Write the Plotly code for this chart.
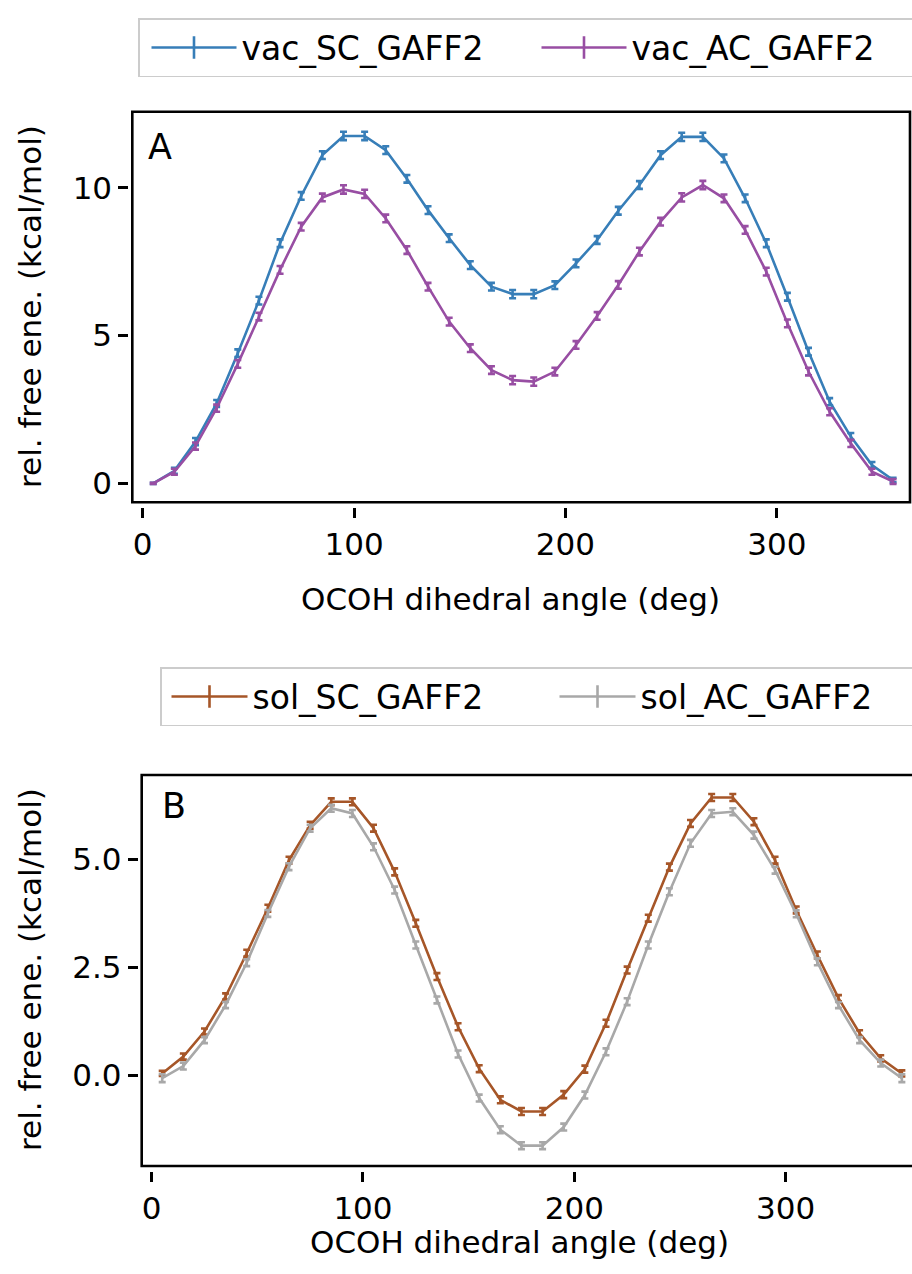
import plotly.graph_objects as go

# ---------------- data ----------------
angles = [5, 15, 25, 35, 45, 55, 65, 75, 85, 95, 105, 115, 125, 135, 145, 155, 165, 175,
          185, 195, 205, 215, 225, 235, 245, 255, 265, 275, 285, 295, 305, 315, 325, 335, 345, 355]

vac_SC_GAFF2 = [0.00, 0.42, 1.41, 2.70, 4.40, 6.18, 8.12, 9.72, 11.10, 11.75, 11.75, 11.27,
                10.30, 9.24, 8.29, 7.38, 6.65, 6.40, 6.40, 6.70, 7.44, 8.23, 9.22, 10.09,
                11.10, 11.72, 11.72, 10.99, 9.64, 8.12, 6.31, 4.45, 2.76, 1.58, 0.62, 0.11]
vac_AC_GAFF2 = [0.00, 0.39, 1.26, 2.54, 4.04, 5.64, 7.22, 8.68, 9.67, 9.94, 9.79, 8.96,
                7.89, 6.65, 5.47, 4.57, 3.83, 3.49, 3.44, 3.78, 4.68, 5.66, 6.71, 7.84,
                8.85, 9.67, 10.09, 9.64, 8.57, 7.16, 5.41, 3.78, 2.42, 1.35, 0.39, 0.06]
sol_SC_GAFF2 = [0.05, 0.44, 1.02, 1.83, 2.83, 3.87, 4.98, 5.79, 6.33, 6.33, 5.72, 4.71,
                3.52, 2.29, 1.13, 0.16, -0.56, -0.83, -0.83, -0.44, 0.15, 1.21, 2.44, 3.64,
                4.82, 5.83, 6.43, 6.43, 5.87, 4.98, 3.83, 2.79, 1.79, 0.98, 0.40, 0.05]
sol_AC_GAFF2 = [-0.06, 0.22, 0.82, 1.63, 2.61, 3.75, 4.83, 5.72, 6.18, 6.06, 5.29, 4.29,
                3.02, 1.75, 0.50, -0.52, -1.25, -1.62, -1.62, -1.19, -0.45, 0.55, 1.71, 3.02,
                4.25, 5.37, 6.06, 6.10, 5.56, 4.75, 3.74, 2.63, 1.63, 0.82, 0.29, -0.06]

# estimated error bars (read from cap sizes)
vac_SC_err = [0.02, 0.10, 0.12, 0.12, 0.13, 0.13, 0.13, 0.13, 0.13, 0.14, 0.14, 0.13,
              0.13, 0.13, 0.13, 0.13, 0.13, 0.14, 0.14, 0.13, 0.13, 0.13, 0.13, 0.13,
              0.13, 0.14, 0.14, 0.13, 0.13, 0.13, 0.13, 0.13, 0.12, 0.12, 0.10, 0.08]
vac_AC_err = [0.02, 0.10, 0.12, 0.12, 0.13, 0.13, 0.13, 0.13, 0.13, 0.14, 0.14, 0.13,
              0.13, 0.13, 0.13, 0.13, 0.13, 0.14, 0.14, 0.13, 0.13, 0.13, 0.13, 0.13,
              0.13, 0.14, 0.14, 0.13, 0.13, 0.13, 0.13, 0.13, 0.12, 0.12, 0.10, 0.08]
sol_SC_err = [0.06, 0.07, 0.07, 0.07, 0.08, 0.08, 0.08, 0.08, 0.08, 0.08, 0.08, 0.08,
              0.08, 0.08, 0.08, 0.08, 0.08, 0.08, 0.08, 0.08, 0.08, 0.08, 0.08, 0.08,
              0.08, 0.08, 0.08, 0.08, 0.08, 0.08, 0.08, 0.08, 0.07, 0.07, 0.07, 0.07]
sol_AC_err = [0.09, 0.08, 0.07, 0.07, 0.08, 0.08, 0.08, 0.08, 0.08, 0.08, 0.08, 0.08,
              0.08, 0.08, 0.08, 0.08, 0.08, 0.08, 0.08, 0.08, 0.08, 0.08, 0.08, 0.08,
              0.08, 0.08, 0.08, 0.08, 0.08, 0.08, 0.08, 0.08, 0.07, 0.07, 0.08, 0.09]

x_ticks = [0, 100, 200, 300]
yA_ticks = [0, 5, 10]
yA_labels = ["0", "5", "10"]
yB_ticks = [0.0, 2.5, 5.0]
yB_labels = ["0.0", "2.5", "5.0"]

x_title = "OCOH dihedral angle (deg)"
y_title = "rel. free ene. (kcal/mol)"

C_BLUE = "#377eb8"
C_PURPLE = "#984ea3"
C_BROWN = "#a65628"
C_GREY = "#a8a8a8"

# ---------------- geometry (screen pixels; body margin removed below) ----------------
W, H = 912, 1274
FONT = "DejaVu Sans, Verdana, sans-serif"


def px(x):
    return x / W


def py(y):
    return 1 - y / H


A_left, A_right, A_top, A_bot = 132.3, 910.0, 111.7, 502.3
B_left, B_right, B_top, B_bot = 141.7, 912.0, 775.0, 1166.0

fig = go.Figure()


def add_series(x, y, err, color, name, xa, ya, leg):
    fig.add_trace(go.Scatter(
        x=x, y=y, mode="lines", name=name, showlegend=False,
        xaxis=xa, yaxis=ya,
        line=dict(color=color, width=2.6),
        error_y=dict(type="data", array=err, visible=True, color=color,
                     thickness=2.6, width=3.5),
    ))
    # legend entry (errorbar style)
    fig.add_trace(go.Scatter(
        x=[None], y=[None], mode="lines+markers", name=name, legend=leg,
        xaxis=xa, yaxis=ya,
        line=dict(color=color, width=2.6),
        marker=dict(symbol="line-ns-open", size=26, color=color,
                    line=dict(color=color, width=2.6)),
    ))


add_series(angles, vac_SC_GAFF2, vac_SC_err, C_BLUE, "vac_SC_GAFF2", "x", "y", "legend")
add_series(angles, vac_AC_GAFF2, vac_AC_err, C_PURPLE, "vac_AC_GAFF2", "x", "y", "legend")
add_series(angles, sol_SC_GAFF2, sol_SC_err, C_BROWN, "sol_SC_GAFF2", "x2", "y2", "legend2")
add_series(angles, sol_AC_GAFF2, sol_AC_err, C_GREY, "sol_AC_GAFF2", "x2", "y2", "legend2")

tickfont = dict(family=FONT, size=31, color="black")
common_x = dict(showgrid=False, zeroline=False, showline=False, ticks="outside",
                ticklen=10, tickwidth=2.5, tickcolor="black", tickfont=tickfont,
                tickvals=x_ticks, anchor="free", automargin=False)
common_y = dict(showgrid=False, zeroline=False, showline=False, ticks="outside",
                ticklen=10, tickwidth=2.5, tickcolor="black", tickfont=tickfont,
                anchor="free", automargin=False)

legend_common = dict(orientation="h", xanchor="left", yanchor="top",
                     bgcolor="white", bordercolor="#cccccc", borderwidth=1.5,
                     font=dict(family=FONT, size=33, color="black"))

fig.update_layout(
    width=W, height=H, autosize=False,
    margin=dict(l=0, r=0, t=0, b=0, pad=0, autoexpand=False),
    paper_bgcolor="white", plot_bgcolor="white",
    font=dict(family=FONT, size=31, color="black"),
    xaxis=dict(domain=[px(A_left), px(A_right)], range=[-4.9, 363.0],
               position=py(506.5), **common_x),
    yaxis=dict(domain=[py(A_bot), py(A_top)], range=[-0.643, 12.57],
               tickvals=yA_ticks, ticktext=yA_labels,
               position=px(128.3), **common_y),
    xaxis2=dict(domain=[px(B_left), min(1.0, px(B_right))], range=[-4.7, 359.8],
                position=py(1170.5), **common_x),
    yaxis2=dict(domain=[py(B_bot), py(B_top)], range=[-2.09, 6.95],
                tickvals=yB_ticks, ticktext=yB_labels,
                position=px(137.7), **common_y),
    legend=dict(x=px(138), y=py(18), indentation=7, itemwidth=85, entrywidth=283,
                **legend_common),
    legend2=dict(x=px(160), y=py(667), indentation=5, itemwidth=76, entrywidth=292,
                 **legend_common),
    showlegend=True,
)

# plot frames
fig.add_shape(type="rect", xref="paper", yref="paper",
              x0=px(A_left), x1=px(A_right), y0=py(A_bot), y1=py(A_top),
              line=dict(color="black", width=2.6), fillcolor="rgba(0,0,0,0)", layer="above")
fig.add_shape(type="rect", xref="paper", yref="paper",
              x0=px(B_left), x1=px(B_right + 20), y0=py(B_bot), y1=py(B_top),
              line=dict(color="black", width=2.6), fillcolor="rgba(0,0,0,0)", layer="above")

# panel letters
fig.add_annotation(text="A", x=px(146), y=py(147), xref="paper", yref="paper",
                   xanchor="left", yanchor="middle", showarrow=False,
                   font=dict(family=FONT, size=35, color="black"))
fig.add_annotation(text="B", x=px(160), y=py(806), xref="paper", yref="paper",
                   xanchor="left", yanchor="middle", showarrow=False,
                   font=dict(family=FONT, size=35, color="black"))

# axis titles
for xc, yc in [(510, 599), (519, 1242)]:
    fig.add_annotation(text=x_title, x=px(xc), y=py(yc), xref="paper", yref="paper",
                       xanchor="center", yanchor="middle", showarrow=False,
                       font=dict(family=FONT, size=31, color="black"))
for xc, yc in [(30, 307), (30, 970)]:
    fig.add_annotation(text=y_title, x=px(xc), y=py(yc), xref="paper", yref="paper",
                       xanchor="center", yanchor="middle", showarrow=False, textangle=-90,
                       font=dict(family=FONT, size=31, color="black"))

fig.write_html(
    "out.html",
    config={"displayModeBar": False},
    post_script="document.body.style.margin='0';document.body.style.overflow='hidden';",
)
